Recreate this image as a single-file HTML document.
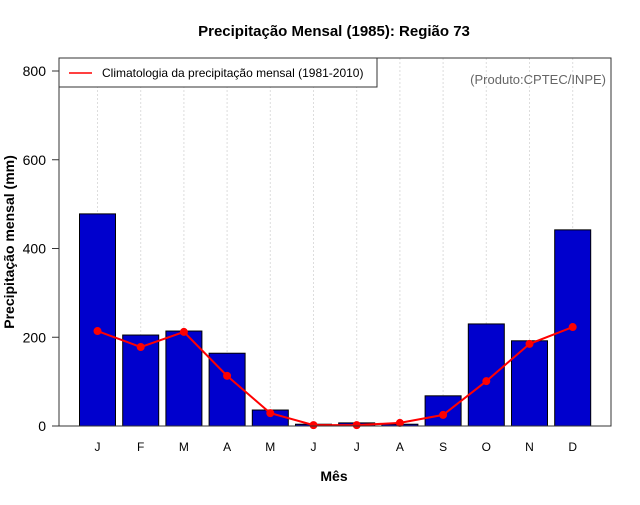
<!DOCTYPE html>
<html><head><meta charset="utf-8"><style>
body{margin:0;background:#fff;}
svg text{font-family:"Liberation Sans",Arial,sans-serif;}
</style></head><body>
<svg id="chart" width="640" height="500" xmlns="http://www.w3.org/2000/svg">
<rect width="640" height="500" fill="#fff"/>
<text x="334" y="36" text-anchor="middle" font-size="15" font-weight="bold">Precipitação Mensal (1985): Região 73</text>
<text x="334" y="481" text-anchor="middle" font-size="14" font-weight="bold">Mês</text>
<text transform="translate(14,242) rotate(-90)" text-anchor="middle" font-size="14" font-weight="bold">Precipitação mensal (mm)</text>
<g id="grid"></g>
<g id="bars"></g>
<g id="line"></g>
<g id="axes"></g>
<rect x="59" y="58" width="552" height="368" fill="none" stroke="#333" stroke-width="1"/>
<g>
<rect x="59" y="58" width="318" height="29" fill="#fff" stroke="#333"/>
<line x1="69" y1="73" x2="92" y2="73" stroke="#f00" stroke-width="1.5"/>
<text x="102" y="77" font-size="12">Climatologia da precipitação mensal (1981-2010)</text>
</g>
<text x="606" y="84" text-anchor="end" font-size="13" fill="#666">(Produto:CPTEC/INPE)</text>
</svg>
<script>
const months = ["J","F","M","A","M","J","J","A","S","O","N","D"];
const precip1985 = [478,205,214,164,36,4,7,4,68,230,192,442];
const climatology = [214,178,212,113,29,2,2,7,25,101,185,223];
const yTicks = [0,200,400,600,800];

const NS = "http://www.w3.org/2000/svg";
const x0 = 97.5, step = 43.2, barW = 36;
const xPos = i => x0 + i*step;
const yPos = v => 426 - v*0.44375;
function mk(tag, attrs, parent){const e=document.createElementNS(NS,tag);for(const k in attrs)e.setAttribute(k,attrs[k]);document.getElementById(parent).appendChild(e);return e;}

months.forEach((m,i)=>{
  const g = mk("line",{x1:xPos(i),x2:xPos(i),y1:58,y2:426,stroke:"#ddd","stroke-dasharray":"2,2"},"grid");
  
  
  const b = mk("rect",{x:xPos(i)-barW/2,y:yPos(precip1985[i]),width:barW,height:426-yPos(precip1985[i]),fill:"#0000cd",stroke:"#000","stroke-width":1},"bars");
  
  
  const t = mk("text",{x:xPos(i),y:451,"text-anchor":"middle","font-size":12},"axes");
  t.textContent = m;
  
  
});
const pts = climatology.map((v,i)=>xPos(i)+","+yPos(v)).join(" ");
const pl = mk("polyline",{points:pts,fill:"none",stroke:"#f00","stroke-width":2},"line");


climatology.forEach((v,i)=>{
  const c = mk("circle",{cx:xPos(i),cy:yPos(v),r:4,fill:"#f00"},"line");
  
  
});
yTicks.forEach(v=>{
  const l = mk("line",{x1:52,x2:59,y1:yPos(v),y2:yPos(v),stroke:"#333"},"axes");
  
  
  const t = mk("text",{x:46,y:yPos(v)+5,"text-anchor":"end","font-size":14},"axes");
  t.textContent = v;
  
  
});
</script>
</body></html>
